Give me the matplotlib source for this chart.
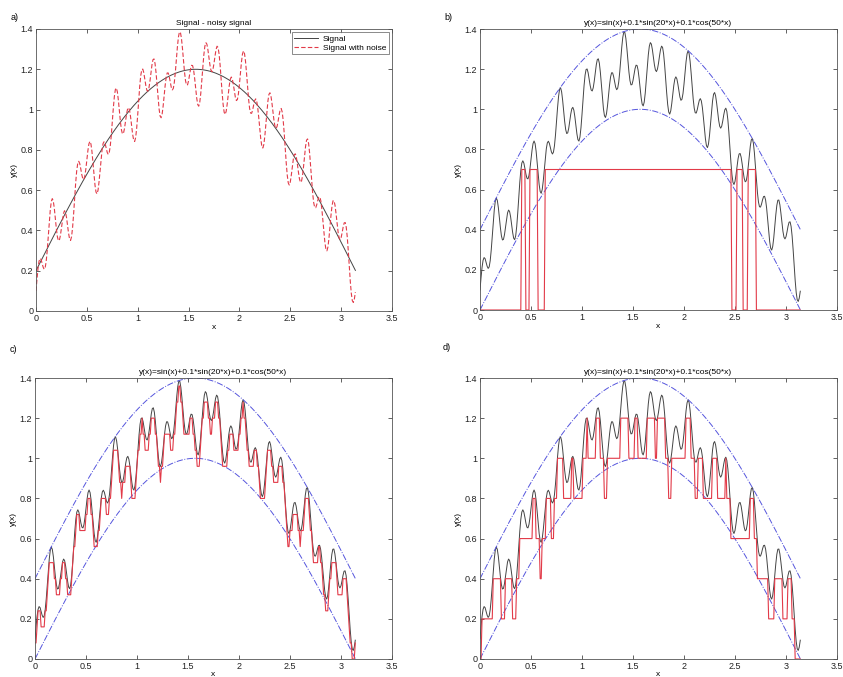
import numpy as np
import matplotlib
matplotlib.use("Agg")
import matplotlib.pyplot as plt

# Data definitions (coefficients)
x_start, x_step, x_end = 0.0, 0.01, 3.14
signal_offset = 0.2         # smooth signal: sin(x)+0.2
noise_amp_20 = 0.1          # -0.1*cos(20x) component
noise_amp_50 = 0.1          # +0.1*sin(50x) component
upper_env_offset = 0.4      # envelope sin(x)+0.4
lower_env_offset = 0.0      # envelope sin(x)
threshold_b = 0.7           # panel b level
quant_step_c = 0.08         # panel c quantisation step
quant_step_d = 0.2          # panel d quantisation step

xticks = [0, 0.5, 1, 1.5, 2, 2.5, 3, 3.5]
xtick_labels = ["0", "0.5", "1", "1.5", "2", "2.5", "3", "3.5"]
yticks = [0, 0.2, 0.4, 0.6, 0.8, 1.0, 1.2, 1.4]
ytick_labels = ["0", "0.2", "0.4", "0.6", "0.8", "1", "1.2", "1.4"]
title_a = "Signal - noisy signal"
title_bcd = "y(x)=sin(x)+0.1*sin(20*x)+0.1*cos(50*x)"
panel_tags = ["a)", "b)", "c)", "d)"]
legend_labels = ["Signal", "Signal with noise"]

x = np.arange(x_start, x_end + 1e-9, x_step)
sig = np.sin(x) + signal_offset
y = sig - noise_amp_20 * np.cos(20 * x) + noise_amp_50 * np.sin(50 * x)
up = np.sin(x) + upper_env_offset
lo = np.sin(x) + lower_env_offset
yb = np.where(y > threshold_b, threshold_b, 0.0)
yc = np.floor(y / quant_step_c + 1e-9) * quant_step_c
yd = np.floor(y / quant_step_d + 1e-9) * quant_step_d

W, H = 843, 677
fig = plt.figure(figsize=(W / 100, H / 100), dpi=100)
plt.rcParams['font.family'] = ['Liberation Sans', 'DejaVu Sans']

def px_axes(l, t, r, b):
    return fig.add_axes([l / W, 1 - b / H, (r - l) / W, (b - t) / H])

boxes = [(36, 29, 392, 311), (480, 29, 837, 310), (35, 378, 392, 659), (480, 378, 837, 659)]
tagpos = [(11, 17), (444, 17), (10, 350), (443, 348)]

BLK = "#444444"
RED = "#e23a48"
BLU = "#5555dd"

axes = []
for i, bx in enumerate(boxes):
    ax = px_axes(*bx)
    ax.set_xlim(0, 3.5)
    ax.set_ylim(0, 1.4)
    ax.set_xticks(xticks)
    ax.set_xticklabels(xtick_labels)
    ax.set_yticks(yticks)
    ax.set_yticklabels(ytick_labels)
    ax.tick_params(direction="in", top=True, right=True, labelsize=6.5, length=3, width=0.5, pad=2, colors="#222222")
    for s in ax.spines.values():
        s.set_linewidth(0.6)
        s.set_color("#555555")
    ax.set_xlabel("x", fontsize=6, labelpad=1)
    ax.set_ylabel("y(x)", fontsize=6, labelpad=2)
    fig.text(tagpos[i][0] / W, 1 - tagpos[i][1] / H, panel_tags[i], fontsize=6.5, ha="left", va="center")
    axes.append(ax)

a, b, c, d = axes
for ax in (c, d):
    ax.xaxis.set_label_coords(0.5, -12 / 281, transform=ax.transAxes)

a.plot(x, sig, color=BLK, lw=0.7, label=legend_labels[0])
a.plot(x, y, color=RED, lw=0.8, ls=(0, (4, 2)), label=legend_labels[1])
a.set_title(title_a, fontsize=6, pad=3)
leg = a.legend(loc="upper right", fontsize=6, frameon=True, fancybox=False, borderpad=0.3,
               handlelength=2.8, handletextpad=0.6, labelspacing=0.15, borderaxespad=0.4)
leg.get_frame().set_edgecolor("#555555")
leg.get_frame().set_linewidth(0.6)

for ax, yr in [(b, yb), (c, yc), (d, yd)]:
    ax.plot(x, y, color=BLK, lw=0.7)
    ax.plot(x, up, color=BLU, lw=0.7, ls="-.")
    ax.plot(x, lo, color=BLU, lw=0.7, ls="-.")
    ax.plot(x, yr, color=RED, lw=0.8)
    ax.set_title(title_bcd, fontsize=6, pad=3)

fig.savefig("out.png", dpi=100, facecolor="white")
